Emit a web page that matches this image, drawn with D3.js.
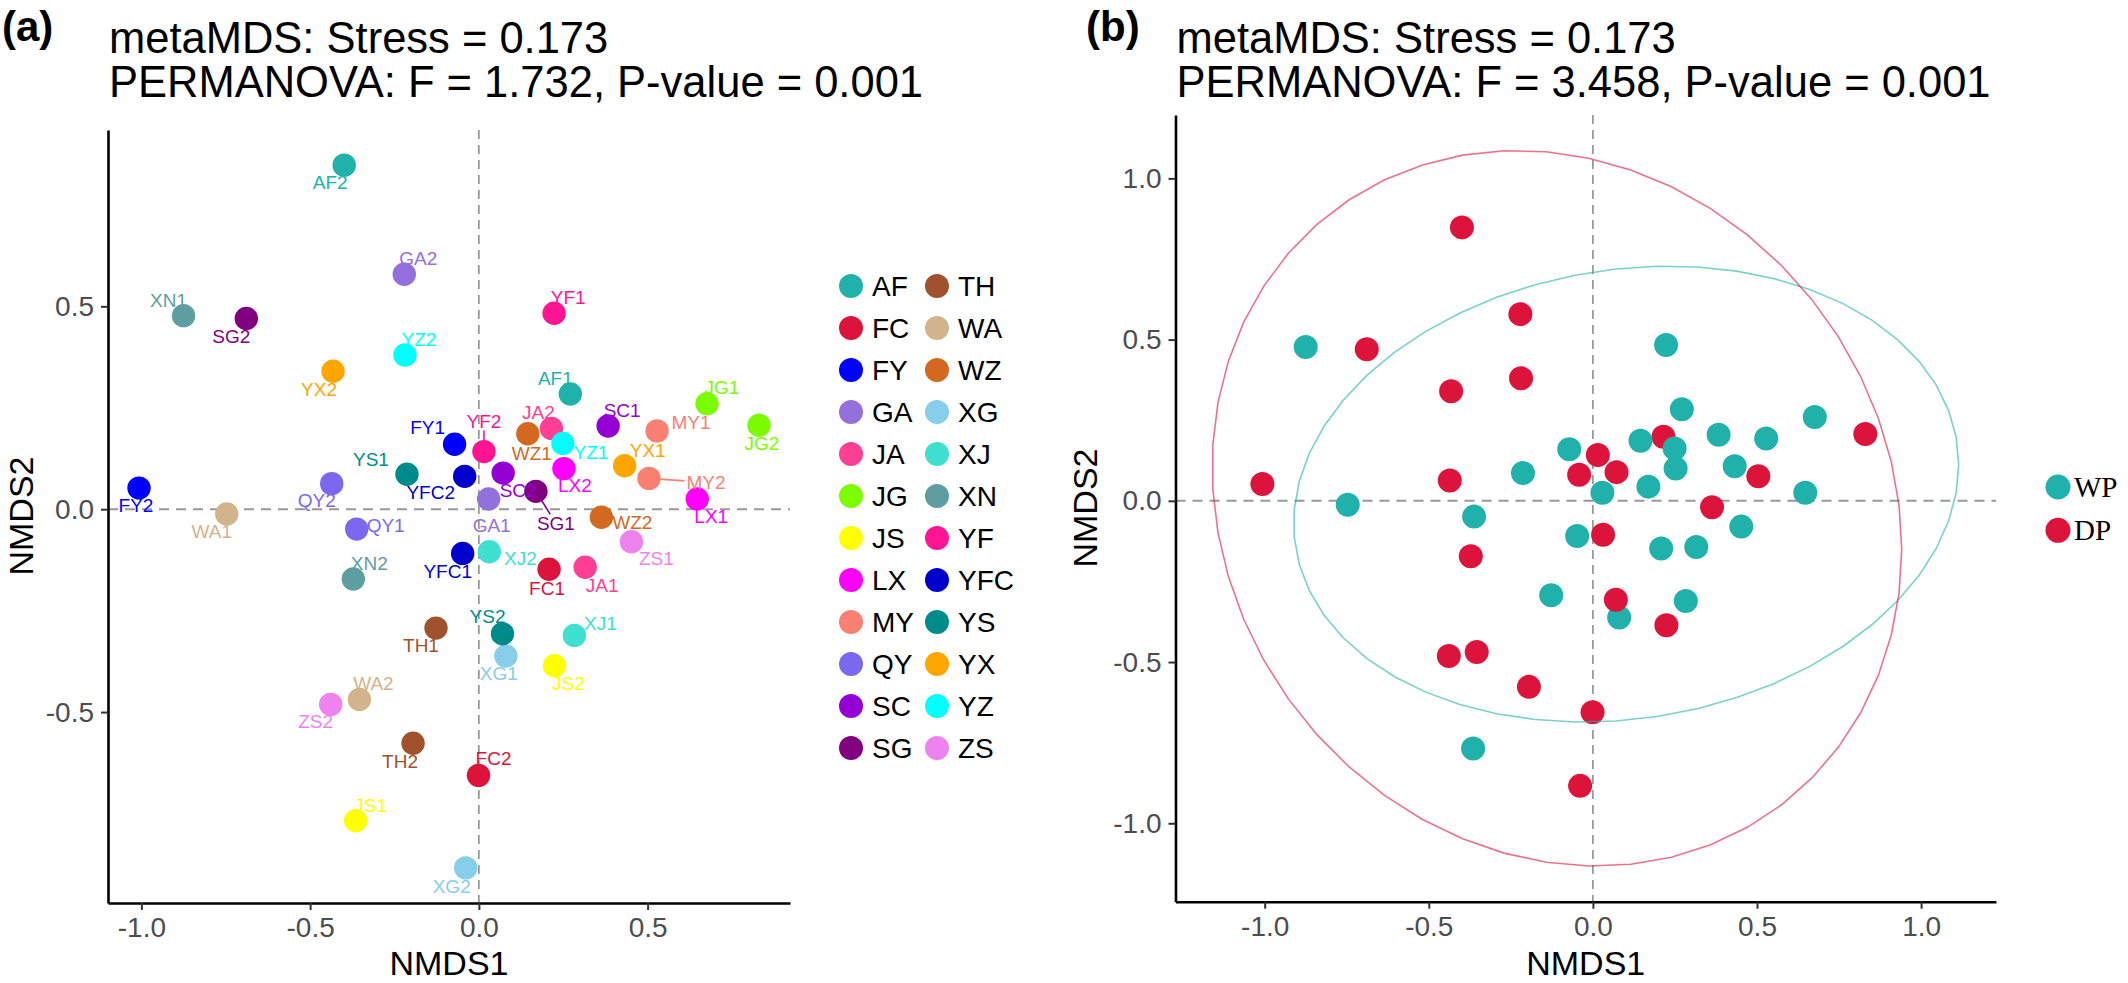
<!DOCTYPE html>
<html lang="en">
<head>
  <meta charset="UTF-8">
  <title>NMDS ordination</title>
  <script src="https://d3js.org/d3.v7.min.js"></script>
  <style>
    body { margin: 0; background: #fff; }
    svg { display: block; font-family: "Liberation Sans", Arial, sans-serif; }
    .axis .domain { stroke: #000; stroke-width: 2.6; }
    .axis .tick line { stroke: #333; stroke-width: 2; }
    .axis .tick text { fill: #4d4d4d; font-size: 28px; font-family: "Liberation Sans", Arial, sans-serif; }
  </style>
</head>
<body>
<script>
  // NMDS scores per sample
  const samples = ['AF1', 'AF2', 'FC1', 'FC2', 'FY1', 'FY2', 'GA1', 'GA2', 'JA1', 'JA2', 'JG1', 'JG2',
    'JS1', 'JS2', 'LX1', 'LX2', 'MY1', 'MY2', 'QY1', 'QY2', 'SC1', 'SC2', 'SG1', 'SG2',
    'TH1', 'TH2', 'WA1', 'WA2', 'WZ1', 'WZ2', 'XG1', 'XG2', 'XJ1', 'XJ2', 'XN1', 'XN2',
    'YF1', 'YF2', 'YFC1', 'YFC2', 'YS1', 'YS2', 'YX1', 'YX2', 'YZ1', 'YZ2', 'ZS1', 'ZS2'];
  const nmds1 = [0.271, -0.399, 0.208, -0.001, -0.072, -1.007, 0.029, -0.221, 0.315, 0.215, 0.676, 0.830,
    -0.365, 0.224, 0.647, 0.252, 0.528, 0.504, -0.362, -0.436, 0.383, 0.072, 0.169, -0.689,
    -0.127, -0.195, -0.747, -0.354, 0.145, 0.363, 0.080, -0.039, 0.283, 0.031, -0.875, -0.372,
    0.223, 0.015, -0.048, -0.042, -0.213, 0.070, 0.432, -0.432, 0.249, -0.219, 0.452, -0.439];
  const nmds2 = [0.284, 0.848, -0.148, -0.656, 0.160, 0.052, 0.025, 0.579, -0.143, 0.199, 0.260, 0.207,
    -0.768, -0.386, 0.025, 0.100, 0.193, 0.076, -0.049, 0.063, 0.205, 0.089, 0.044, 0.470,
    -0.293, -0.577, -0.012, -0.469, 0.186, -0.020, -0.362, -0.884, -0.311, -0.105, 0.477, -0.172,
    0.483, 0.142, -0.109, 0.081, 0.086, -0.307, 0.107, 0.340, 0.162, 0.380, -0.080, -0.481];
  // grouping used in panel (b)
  const period = ['WP', 'DP', 'WP', 'DP', 'WP', 'DP', 'WP', 'DP', 'WP', 'DP', 'WP', 'DP',
    'WP', 'DP', 'WP', 'WP', 'WP', 'DP', 'WP', 'DP', 'WP', 'DP', 'WP', 'DP',
    'WP', 'DP', 'WP', 'DP', 'WP', 'DP', 'WP', 'DP', 'WP', 'DP', 'WP', 'DP',
    'WP', 'DP', 'WP', 'DP', 'WP', 'DP', 'WP', 'DP', 'WP', 'DP', 'WP', 'DP'];

  const sites = ['AF', 'FC', 'FY', 'GA', 'JA', 'JG', 'JS', 'LX', 'MY', 'QY', 'SC', 'SG',
    'TH', 'WA', 'WZ', 'XG', 'XJ', 'XN', 'YF', 'YFC', 'YS', 'YX', 'YZ', 'ZS'];
  const siteColors = ['#20B2AA', '#DC143C', '#0000FF', '#9370DB', '#FF3E96', '#7CFC00', '#FFFF00', '#FF00FF',
    '#FA8072', '#7B68EE', '#9400D3', '#800080', '#A0522D', '#D2B48C', '#D2691E', '#87CEEB',
    '#40E0D0', '#5F9EA0', '#FF1493', '#0000CD', '#008B8B', '#FFA500', '#00FFFF', '#EE82EE'];
  const periods = ['WP', 'DP'];
  const periodColors = ['#20B2AA', '#DC143C'];

  const xTicksA = [-1, -0.5, 0, 0.5];
  const yTicksA = [-0.5, 0, 0.5];
  const xTicksB = [-1, -0.5, 0, 0.5, 1];
  const yTicksB = [-1, -0.5, 0, 0.5, 1];
  const titleA = ['metaMDS: Stress = 0.173', 'PERMANOVA: F = 1.732, P-value = 0.001'];
  const titleB = ['metaMDS: Stress = 0.173', 'PERMANOVA: F = 3.458, P-value = 0.001'];

  // repelled label placement: label centre offset from its point, in px
  const labelShift = {
    AF1: [-15, -16], AF2: [-14, 17], FC1: [-2, 19], FC2: [15, -17], FY1: [-27, -17], FY2: [-3, 17],
    GA1: [3, 26], GA2: [14, -16], JA1: [17, 18], JA2: [-13, -16], JG1: [15, -16], JG2: [3, 18],
    JS1: [15, -15], JS2: [14, 18], LX1: [14, 17], LX2: [11, 17], MY1: [34, -9], MY2: [57, 4],
    QY1: [29, -4], QY2: [-15, 17], SC1: [14, -16], SC2: [15, 17], SG1: [20, 32], SG2: [-15, 18],
    TH1: [-15, 17], TH2: [-13, 18], WA1: [-15, 17], WA2: [14, -16], WZ1: [4, 20], WZ2: [31, 5],
    XG1: [-7, 17], XG2: [-14, 18], XJ1: [26, -12], XJ2: [31, 7], XN1: [-15, -15], XN2: [16, -16],
    YF1: [14, -16], YF2: [0, -30], YFC1: [-15, 18], YFC2: [-34, 16], YS1: [-36, -15], YS2: [-15, -17],
    YX1: [23, -15], YX2: [-14, 18], YZ1: [28, 9], YZ2: [14, -16], ZS1: [25, 17], ZS2: [-15, 17]
  };
  const labelSegment = ['YF2', 'MY2', 'SG1'];

  const rows = samples.map((s, i) => ({
    name: s, site: s.replace(/\d$/, ''), x: nmds1[i], y: nmds2[i], period: period[i]
  }));

  const siteColor = d3.scaleOrdinal().domain(sites).range(siteColors);
  const periodColor = d3.scaleOrdinal().domain(periods).range(periodColors);
  const fmt = d => d.toFixed(1);
  const expand = (ext, k = 0.05) => [ext[0] - (ext[1] - ext[0]) * k, ext[1] + (ext[1] - ext[0]) * k];

  const svg = d3.select('body').append('svg')
    .attr('width', 2128)
    .attr('height', 983);

  // stat_ellipse(type = "norm"): sample covariance, 95% F-based radius
  function covWt(pts) {
    const n = pts.length;
    const mx = d3.mean(pts, d => d[0]), my = d3.mean(pts, d => d[1]);
    let c11 = 0, c12 = 0, c22 = 0;
    pts.forEach(d => {
      c11 += (d[0] - mx) * (d[0] - mx);
      c12 += (d[0] - mx) * (d[1] - my);
      c22 += (d[1] - my) * (d[1] - my);
    });
    return { center: [mx, my], cov: [c11 / (n - 1), c12 / (n - 1), c22 / (n - 1)] };
  }

  function ellipse(pts, level = 0.95, segments = 51) {
    const { center, cov } = covWt(pts);
    const dfd = pts.length - 1;
    const qf = dfd / 2 * (Math.pow(1 - level, -2 / dfd) - 1);
    const r = Math.sqrt(2 * qf);
    const a = Math.sqrt(cov[0]);
    const b = cov[1] / a;
    const c = Math.sqrt(cov[2] - b * b);
    return d3.range(segments + 1).map(i => {
      const t = i * 2 * Math.PI / segments;
      return [center[0] + r * a * Math.cos(t), center[1] + r * (b * Math.cos(t) + c * Math.sin(t))];
    });
  }

  function frame(x, y, xt, yt, title, tagX, tag) {
    const [x0, x1] = x.range();
    const [y0, y1] = y.range();
    const g = svg.append('g');

    g.append('text').attr('x', tagX).attr('y', 41)
      .style('font-size', '42px').style('font-weight', 'bold').text(tag);
    title.forEach((t, i) => {
      g.append('text').attr('x', x0 + 1).attr('y', 53 + i * 44)
        .style('font-size', '43.5px').text(t);
    });

    g.append('line')
      .attr('x1', x0).attr('x2', x1).attr('y1', y(0)).attr('y2', y(0))
      .style('stroke', '#999').style('stroke-width', 2).style('stroke-dasharray', '10,7');
    g.append('line')
      .attr('x1', x(0)).attr('x2', x(0)).attr('y1', y1).attr('y2', y0)
      .style('stroke', '#888').style('stroke-width', 1.5).style('stroke-dasharray', '9,6');

    g.append('g').attr('class', 'axis').attr('transform', `translate(0,${y0})`)
      .call(d3.axisBottom(x).tickValues(xt).tickFormat(fmt).tickSize(7).tickSizeOuter(0).tickPadding(7));
    g.append('g').attr('class', 'axis').attr('transform', `translate(${x0},0)`)
      .call(d3.axisLeft(y).tickValues(yt).tickFormat(fmt).tickSize(7).tickSizeOuter(0).tickPadding(7));

    g.append('text').attr('x', (x0 + x1) / 2).attr('y', 975)
      .attr('text-anchor', 'middle').style('font-size', '34px').text('NMDS1');
    return g;
  }

  // ---------- panel (a) ----------
  const xA = d3.scaleLinear().domain(expand(d3.extent(nmds1))).range([108, 790]);
  const yA = d3.scaleLinear().domain(expand(d3.extent(nmds2))).range([903, 130]);
  const gA = frame(xA, yA, xTicksA, yTicksA, titleA, 2, '(a)');
  gA.append('text').attr('transform', 'translate(33,516) rotate(-90)')
    .attr('text-anchor', 'middle').style('font-size', '34px').text('NMDS2');

  const segG = gA.append('g');
  gA.append('g').selectAll('circle').data(rows).join('circle')
    .attr('cx', d => xA(d.x)).attr('cy', d => yA(d.y)).attr('r', 11.7)
    .style('fill', d => siteColor(d.site));

  const labels = gA.append('g').selectAll('text').data(rows).join('text')
    .attr('x', d => xA(d.x) + labelShift[d.name][0])
    .attr('y', d => yA(d.y) + labelShift[d.name][1])
    .attr('dy', '0.35em')
    .attr('text-anchor', 'middle')
    .style('font-size', '19px')
    .style('fill', d => siteColor(d.site))
    .text(d => d.name);

  labels.filter(d => labelSegment.includes(d.name)).each(function (d) {
    const px = xA(d.x), py = yA(d.y);
    const lx = px + labelShift[d.name][0], ly = py + labelShift[d.name][1];
    const hw = this.getComputedTextLength() / 2 + 2, hh = 9;
    const vx = px - lx, vy = py - ly;
    const t = Math.min(vx ? hw / Math.abs(vx) : Infinity, vy ? hh / Math.abs(vy) : Infinity);
    segG.append('line')
      .attr('x1', px).attr('y1', py).attr('x2', lx + vx * t).attr('y2', ly + vy * t)
      .style('stroke', siteColor(d.site)).style('stroke-width', 1.6);
  });

  const legA = gA.append('g');
  sites.forEach((s, i) => {
    const cx = 851 + Math.floor(i / 12) * 86;
    const cy = 286 + (i % 12) * 42;
    legA.append('circle').attr('cx', cx).attr('cy', cy).attr('r', 12).style('fill', siteColor(s));
    legA.append('text').attr('x', cx + 21).attr('y', cy).attr('dy', '0.35em')
      .style('font-size', '28px').text(s);
  });

  // ---------- panel (b) ----------
  const ellipses = periods.map(p => ({
    period: p,
    pts: ellipse(rows.filter(d => d.period === p).map(d => [d.x, d.y]))
  }));
  const allX = nmds1.concat(...ellipses.map(e => e.pts.map(p => p[0])));
  const allY = nmds2.concat(...ellipses.map(e => e.pts.map(p => p[1])));
  const xB = d3.scaleLinear().domain(expand(d3.extent(allX))).range([1175.5, 1996]);
  const yB = d3.scaleLinear().domain(expand(d3.extent(allY))).range([901.7, 115]);
  const gB = frame(xB, yB, xTicksB, yTicksB, titleB, 1086, '(b)');
  gB.append('text').attr('transform', 'translate(1097,508) rotate(-90)')
    .attr('text-anchor', 'middle').style('font-size', '34px').text('NMDS2');

  gB.append('g').selectAll('circle').data(rows).join('circle')
    .attr('cx', d => xB(d.x)).attr('cy', d => yB(d.y)).attr('r', 12)
    .style('fill', d => periodColor(d.period));

  const line = d3.line().x(d => xB(d[0])).y(d => yB(d[1]));
  gB.append('g').selectAll('path').data(ellipses).join('path')
    .attr('d', d => line(d.pts))
    .style('fill', 'none')
    .style('stroke', d => periodColor(d.period))
    .style('stroke-opacity', 0.6)
    .style('stroke-width', 1.6);

  const legB = gB.append('g');
  periods.forEach((p, i) => {
    const cy = 487 + i * 43.3;
    legB.append('circle').attr('cx', 2058).attr('cy', cy).attr('r', 12.5).style('fill', periodColor(p));
    legB.append('text').attr('x', 2074).attr('y', cy).attr('dy', '0.35em')
      .style('font-family', '"Liberation Serif", "Times New Roman", serif')
      .style('font-size', '29px').text(p);
  });
</script>
</body>
</html>
